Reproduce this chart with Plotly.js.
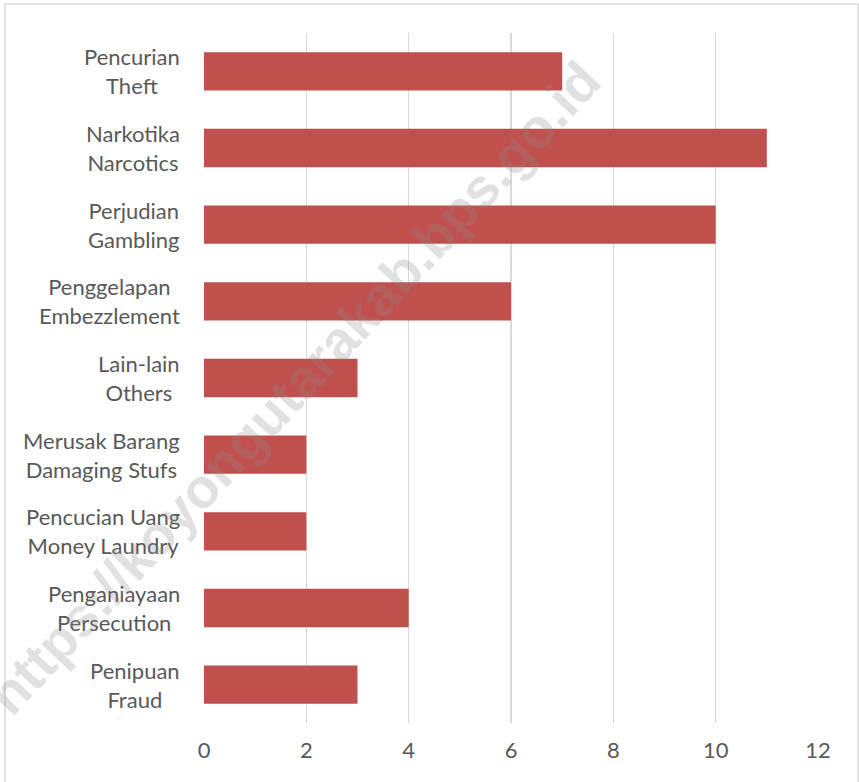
<!DOCTYPE html>
<html>
<head>
<meta charset="utf-8">
<script src="https://cdn.plot.ly/plotly-3.0.1.min.js"></script>
<style>html,body{margin:0;padding:0;background:#fff;}#chart{width:859px;height:782px;}</style>
</head>
<body>
<div id="chart"></div>
<script>
// Data (top to bottom)
const categoriesId = ["Pencurian", "Narkotika", "Perjudian", "Penggelapan", "Lain-lain", "Merusak Barang", "Pencucian Uang", "Penganiayaan", "Penipuan"];
const categoriesEn = ["Theft", "Narcotics", "Gambling", "Embezzlement", "Others", "Damaging Stufs", "Money Laundry", "Persecution", "Fraud"];
const values = [7, 11, 10, 6, 3, 2, 2, 4, 3];
const xTicks = [0, 2, 4, 6, 8, 10, 12];

const labelFont = "Lato, sans-serif";
const textColor = "#595959";
const cats = categoriesId.map((c, i) => c + "|" + categoriesEn[i]);

const trace = {
  type: "bar",
  orientation: "h",
  y: cats,
  x: values,
  width: 0.5,
  marker: {color: "#C0504D", line: {width: 0}},
  hoverinfo: "x"
};

const annotations = cats.map((c, i) => ({
  xref: "paper", yref: "y",
  x: 0, y: c,
  xanchor: "right", yanchor: "middle",
  xshift: -22,
  align: "center",
  showarrow: false,
  text: categoriesId[i] + "<br>" + categoriesEn[i],
  font: {family: labelFont, size: 22, color: textColor}
}));

annotations.push({
  xref: "paper", yref: "paper",
  x: 0.146, y: 0.486,
  xanchor: "center", yanchor: "middle",
  showarrow: false,
  textangle: -47,
  text: "https://koyongutarakab.bps.go.id",
  font: {family: "'Liberation Sans', Arial, sans-serif", size: 55, color: "rgba(140,140,140,0.26)", weight: "bold"}
});

const layout = {
  width: 859, height: 782,
  margin: {l: 204, r: 41, t: 33, b: 59},
  paper_bgcolor: "#fff", plot_bgcolor: "#fff",
  showlegend: false,
  bargap: 0.5,
  xaxis: {
    range: [0, 12],
    tickvals: xTicks,
    ticktext: xTicks.map(String),
    showgrid: true, gridcolor: "#d9d9d9", gridwidth: 1.5,
    zeroline: false, showline: false,
    ticks: "", ticklabelstandoff: 12,
    tickfont: {family: labelFont, size: 22, color: textColor},
    fixedrange: true
  },
  yaxis: {
    type: "category",
    categoryorder: "array", categoryarray: cats,
    autorange: "reversed",
    showticklabels: false, showgrid: false, zeroline: false, showline: false, ticks: "",
    fixedrange: true
  },
  annotations: annotations,
  shapes: [{
    type: "rect", xref: "paper", yref: "paper",
    x0: (5 - 204) / 614, x1: (858 - 204) / 614,
    y0: (723 - 800) / 690, y1: (723 - 4) / 690,
    line: {color: "#d9d9d9", width: 1.5}, fillcolor: "rgba(0,0,0,0)", layer: "below"
  }]
};

Plotly.newPlot("chart", [trace], layout, {displayModeBar: false, staticPlot: true});
</script>
</body>
</html>
